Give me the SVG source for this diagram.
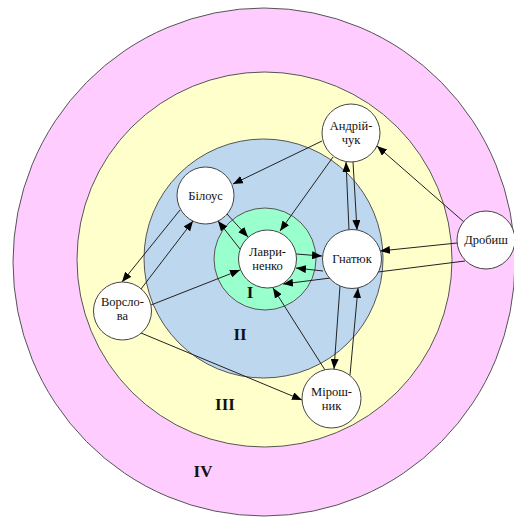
<svg xmlns="http://www.w3.org/2000/svg" width="514" height="517" viewBox="0 0 514 517">
<style>
.ring{stroke:#555;stroke-width:1}
.node circle{fill:#fff;stroke:#444;stroke-width:1}
.node text{font-family:"Liberation Serif","Times New Roman",serif;font-size:12.5px;fill:#111;text-anchor:middle}
.zone{font-family:"Liberation Serif","Times New Roman",serif;font-size:17px;font-weight:bold;fill:#111;text-anchor:middle}
#edges line{stroke:#222;stroke-width:1;marker-end:url(#ah)}
</style>
<defs>
<marker id="ah" viewBox="0 0 10 8" refX="10" refY="4" markerWidth="10" markerHeight="8" markerUnits="userSpaceOnUse" orient="auto">
<path d="M0,0 L10,4 L0,8 Z" fill="#000"/>
</marker>
</defs>
<rect width="514" height="517" fill="#fff"/>
<g id="zones">
<ellipse class="ring" cx="264" cy="262" rx="251" ry="254" fill="#ffccff"/>
<circle class="ring" cx="264.5" cy="259.5" r="187.5" fill="#ffffcc"/>
<circle class="ring" cx="263.5" cy="258.5" r="119.5" fill="#bdd7ee"/>
<circle class="ring" cx="265" cy="259" r="51" fill="#99ffcc"/>
<text class="zone" x="250" y="298">I</text>
<text class="zone" x="240" y="340">II</text>
<text class="zone" x="225" y="410">III</text>
<text class="zone" x="203" y="477">IV</text>
</g>
<g id="edges">
<line x1="322" y1="141" x2="233" y2="184"/>
<line x1="333" y1="157" x2="280" y2="231"/>
<line x1="349" y1="230" x2="346" y2="162"/>
<line x1="353" y1="162" x2="357" y2="230"/>
<line x1="464" y1="222" x2="377" y2="146"/>
<line x1="457" y1="243" x2="380" y2="251"/>
<line x1="465" y1="261" x2="283" y2="284"/>
<line x1="296" y1="254" x2="322" y2="256"/>
<line x1="323" y1="271" x2="296" y2="268"/>
<line x1="240" y1="249" x2="218" y2="221"/>
<line x1="227" y1="214" x2="248" y2="237"/>
<line x1="180" y1="210" x2="122" y2="282"/>
<line x1="141" y1="289" x2="193" y2="221"/>
<line x1="151" y1="305" x2="240" y2="270"/>
<line x1="141" y1="333" x2="302" y2="400"/>
<line x1="325" y1="370" x2="273" y2="288"/>
<line x1="340" y1="286" x2="334" y2="369"/>
<line x1="350" y1="375" x2="358" y2="288"/>
</g>
<g id="lavrynenko" class="node"><circle cx="267.5" cy="259" r="29"/><text x="267.5" y="256">Лаври-</text><text x="267.5" y="270">ненко</text></g>
<g id="bilous" class="node"><circle cx="205.5" cy="195.5" r="28.5"/><text x="205.5" y="200">Білоус</text></g>
<g id="hnatiuk" class="node"><circle cx="352" cy="259" r="29.5"/><text x="352" y="263">Гнатюк</text></g>
<g id="andriichuk" class="node"><circle cx="351" cy="133" r="29"/><text x="351" y="130">Андрій-</text><text x="351" y="144">чук</text></g>
<g id="drobysh" class="node"><circle cx="486" cy="240" r="29"/><text x="486" y="244">Дробиш</text></g>
<g id="vorslova" class="node"><circle cx="122.5" cy="311" r="29"/><text x="122.5" y="306">Ворсло-</text><text x="122.5" y="320">ва</text></g>
<g id="miroshnyk" class="node"><circle cx="331.5" cy="398.5" r="29.5"/><text x="331.5" y="396">Мірош-</text><text x="331.5" y="410">ник</text></g>
</svg>
